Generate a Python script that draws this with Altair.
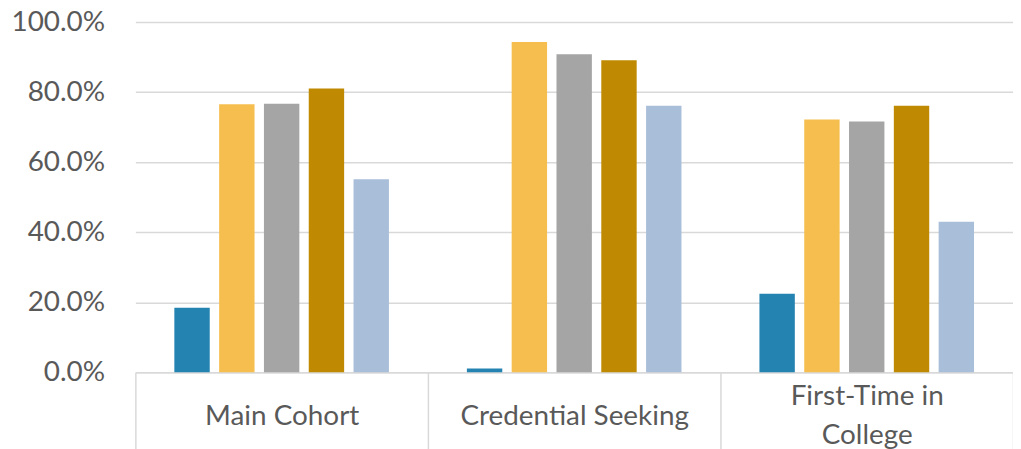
import altair as alt
import pandas as pd

categories = ["Main Cohort", "Credential Seeking", "First-Time in College"]
series = ["Series 1", "Series 2", "Series 3", "Series 4", "Series 5"]
values = {
    "Series 1": [0.184, 0.011, 0.224],
    "Series 2": [0.765, 0.943, 0.722],
    "Series 3": [0.767, 0.908, 0.716],
    "Series 4": [0.810, 0.891, 0.761],
    "Series 5": [0.551, 0.761, 0.430],
}
colors = ["#2483B1", "#F6BE4F", "#A5A5A5", "#BF8A02", "#A9BED8"]

rows = []
for s in series:
    for c, v in zip(categories, values[s]):
        rows.append({"category": c, "series": s, "value": v})
df = pd.DataFrame(rows)

FONT = "Lato"
TXT = "#595959"
GRID = "#D9D9D9"

chart = alt.Chart(df).mark_bar().encode(
    x=alt.X("category:N", sort=categories, title=None,
            scale=alt.Scale(paddingInner=0, paddingOuter=0),
            axis=alt.Axis(labelAngle=0, labelFont=FONT, labelFontSize=28,
                          labelColor=TXT,
                          labelBaseline={"condition": {"test": "datum.value == 'First-Time in College'",
                                                       "value": "line-bottom"},
                                         "value": "middle"},
                          labelLineHeight=40, labelPadding=-36,
                          labelExpr="datum.value == 'First-Time in College' ? ['First-Time in', 'College'] : datum.value",
                          tickBand="extent", tickSize=80, tickColor=GRID,
                          tickWidth=1.5, domainColor=GRID, domainWidth=1.5,
                          grid=False, labelLimit=400)),
    xOffset=alt.XOffset("series:N", sort=series,
                        scale=alt.Scale(paddingInner=0.21, paddingOuter=0.87)),
    y=alt.Y("value:Q", title=None,
            scale=alt.Scale(domain=[0, 1], nice=False),
            axis=alt.Axis(format=".1%", values=[0, 0.2, 0.4, 0.6, 0.8, 1.0],
                          labelFont=FONT, labelFontSize=28, labelColor=TXT,
                          labelPadding=31, ticks=False, domain=False,
                          gridColor=GRID, gridWidth=1.5)),
    color=alt.Color("series:N", sort=series,
                    scale=alt.Scale(domain=series, range=colors), legend=None),
).properties(
    width=882, height=352,
    autosize=alt.AutoSizeParams(type="none"),
    padding={"left": 128, "top": 13, "right": 0, "bottom": 90},
).configure_view(stroke=None)

chart.save("out.html", embed_options={"renderer": "svg", "actions": False})
